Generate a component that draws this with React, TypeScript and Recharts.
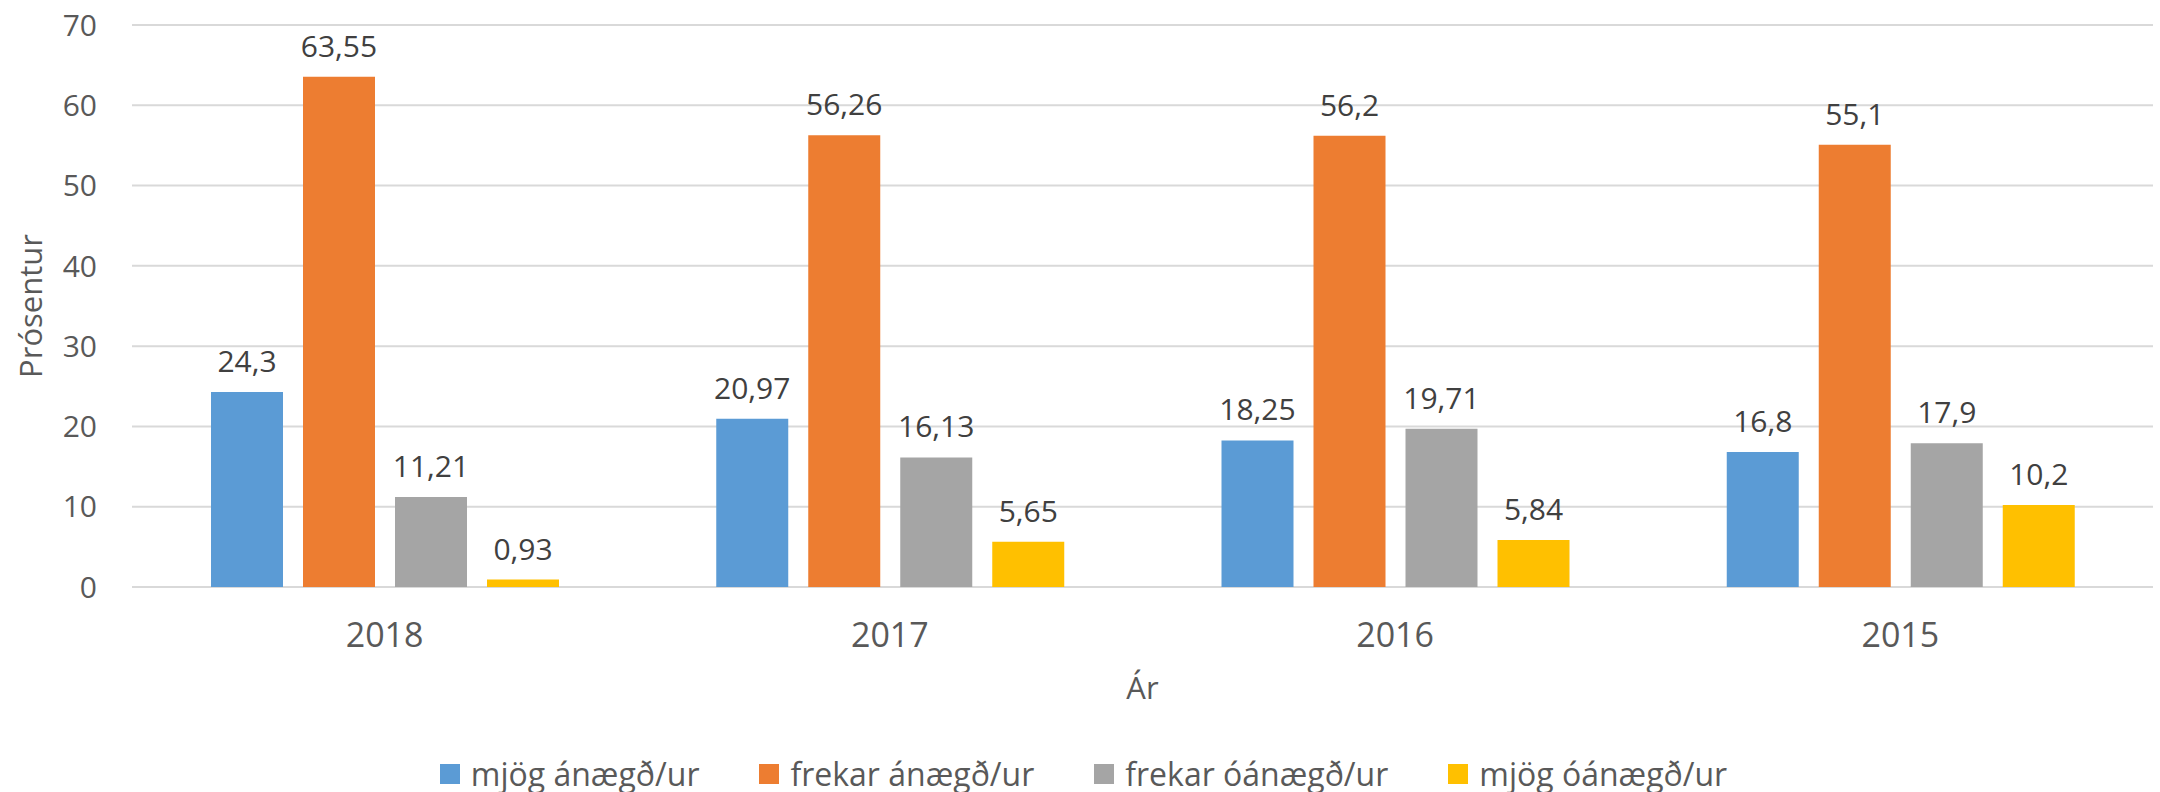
import React from 'react';
import { BarChart, Bar, XAxis, YAxis, CartesianGrid, Legend, LabelList } from 'recharts';

const years = ['2018', '2017', '2016', '2015'];
const mjogAnaegd = [24.3, 20.97, 18.25, 16.8];
const frekarAnaegd = [63.55, 56.26, 56.2, 55.1];
const frekarOanaegd = [11.21, 16.13, 19.71, 17.9];
const mjogOanaegd = [0.93, 5.65, 5.84, 10.2];
const yTicks = [0, 10, 20, 30, 40, 50, 60, 70];

const seriesNames = ['mjög ánægð/ur', 'frekar ánægð/ur', 'frekar óánægð/ur', 'mjög óánægð/ur'];
const seriesColors = ['#5B9BD5', '#ED7D31', '#A5A5A5', '#FFC000'];

const data = years.map((y, i) => ({
  year: y,
  s0: mjogAnaegd[i],
  s1: frekarAnaegd[i],
  s2: frekarOanaegd[i],
  s3: mjogOanaegd[i],
}));

const FONT = '"Open Sans", sans-serif';
const fmt = (v: any) => String(v).replace('.', ',');

const renderLegend = (props: any) => {
  const payload = [...(props.payload || [])].sort(
    (a: any, b: any) => seriesNames.indexOf(a.value) - seriesNames.indexOf(b.value)
  );
  return (
    <div
      style={{
        height: 60,
        boxSizing: 'border-box',
        paddingTop: 23,
        paddingLeft: 14,
        display: 'flex',
        justifyContent: 'center',
        fontFamily: FONT,
        fontSize: 32,
        lineHeight: '32px',
        color: '#595959',
      }}
    >
      {payload.map((p: any, i: number) => (
        <div
          key={i}
          style={{ display: 'flex', alignItems: 'center', marginRight: i < payload.length - 1 ? 60 : 0 }}
        >
          <div style={{ width: 20, height: 20, background: p.color, marginRight: 11 }} />
          <span>{p.value}</span>
        </div>
      ))}
    </div>
  );
};

export default function App() {
  return (
    <div style={{ position: 'absolute', left: 0, top: 0, width: 2160, height: 792, background: '#fff' }}>
      <BarChart
        width={2160}
        height={792}
        data={data}
        margin={{ top: 25, right: 7, left: 0, bottom: 0 }}
        barSize={72}
        barGap={20}
      >
        <CartesianGrid vertical={false} stroke="#D9D9D9" strokeWidth={2} />
        <XAxis
          dataKey="year"
          height={145}
          axisLine={false}
          tickLine={false}
          tickSize={0}
          tickMargin={36}
          tick={{ fontSize: 34, fill: '#595959', fontFamily: FONT }}
          label={{
            value: 'Ár',
            position: 'insideBottom',
            offset: 33,
            style: { fontSize: 31, fill: '#595959', fontFamily: FONT },
          }}
        />
        <YAxis
          width={132}
          domain={[0, 70]}
          ticks={yTicks}
          axisLine={false}
          tickLine={false}
          tickSize={0}
          tickMargin={35}
          tick={{ fontSize: 30, fill: '#595959', fontFamily: FONT }}
          label={{
            value: 'Prósentur',
            angle: -90,
            position: 'insideLeft',
            offset: 31,
            style: { fontSize: 31, fill: '#595959', fontFamily: FONT, textAnchor: 'middle' },
          }}
        />
        <Legend verticalAlign="bottom" content={renderLegend} />
        {['s0', 's1', 's2', 's3'].map((k, i) => (
          <Bar key={k} dataKey={k} name={seriesNames[i]} fill={seriesColors[i]} isAnimationActive={false}>
            <LabelList
              dataKey={k}
              position="top"
              offset={20}
              formatter={fmt}
              style={{ fontSize: 30, fill: '#404040', fontFamily: FONT }}
            />
          </Bar>
        ))}
      </BarChart>
    </div>
  );
}
